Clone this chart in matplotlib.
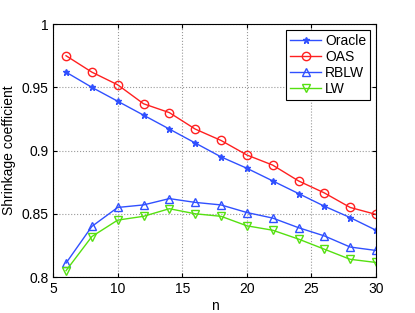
import numpy as np
import matplotlib
matplotlib.use('Agg')
import matplotlib.pyplot as plt

plt.rcParams['font.family'] = ['Liberation Sans', 'DejaVu Sans']

# datos
n = [6, 8, 10, 12, 14, 16, 18, 20, 22, 24, 26, 28, 30]
oracle = [0.962, 0.950, 0.939, 0.928, 0.917, 0.906, 0.895, 0.886, 0.876, 0.866, 0.856, 0.847, 0.837]
oas = [0.975, 0.962, 0.952, 0.937, 0.930, 0.917, 0.908, 0.8965, 0.8885, 0.876, 0.8665, 0.855, 0.8495]
rblw = [0.811, 0.840, 0.855, 0.857, 0.862, 0.859, 0.857, 0.851, 0.8466, 0.839, 0.8325, 0.8237, 0.821]
lw = [0.805, 0.832, 0.845, 0.848, 0.854, 0.850, 0.848, 0.8405, 0.837, 0.830, 0.822, 0.814, 0.8115]

fig = plt.figure(figsize=(4.15, 3.13), dpi=100)
ax = fig.add_axes([0.128, 0.115, 0.778, 0.808])

ax.plot(n, oracle, '-*', color='#3050ff', lw=1, ms=5, label='Oracle')
ax.plot(n, oas, '-o', color='#ff2020', lw=1, ms=6, mfc='none', label='OAS')
ax.plot(n, rblw, '-^', color='#3050ff', lw=1, ms=6, mfc='none', label='RBLW')
ax.plot(n, lw, '-v', color='#55e010', lw=1, ms=6, mfc='none', label='LW')

ax.set_xlim(5, 30)
ax.set_ylim(0.8, 1.0)
ax.set_xticks([5, 10, 15, 20, 25, 30])
ax.set_yticks([0.8, 0.85, 0.9, 0.95, 1.0])
ax.set_yticklabels(['0.8', '0.85', '0.9', '0.95', '1'])
ax.grid(True, linestyle=':', color='#999999', lw=0.8)
ax.tick_params(direction='in', labelsize=10, top=True, right=True, length=3)
for s in ax.spines.values():
    s.set_linewidth(0.8)
ax.set_xlabel('n', fontsize=10, labelpad=2)
ax.set_ylabel('Shrinkage coefficient', fontsize=10, labelpad=4)

leg = ax.legend(loc='upper right', fontsize=10, fancybox=False, edgecolor='black',
                framealpha=1, handlelength=2.2, borderaxespad=0.4, labelspacing=0.15,
                handletextpad=0.3, borderpad=0.3)
leg.get_frame().set_linewidth(0.8)

fig.savefig('out.png', dpi=100)
